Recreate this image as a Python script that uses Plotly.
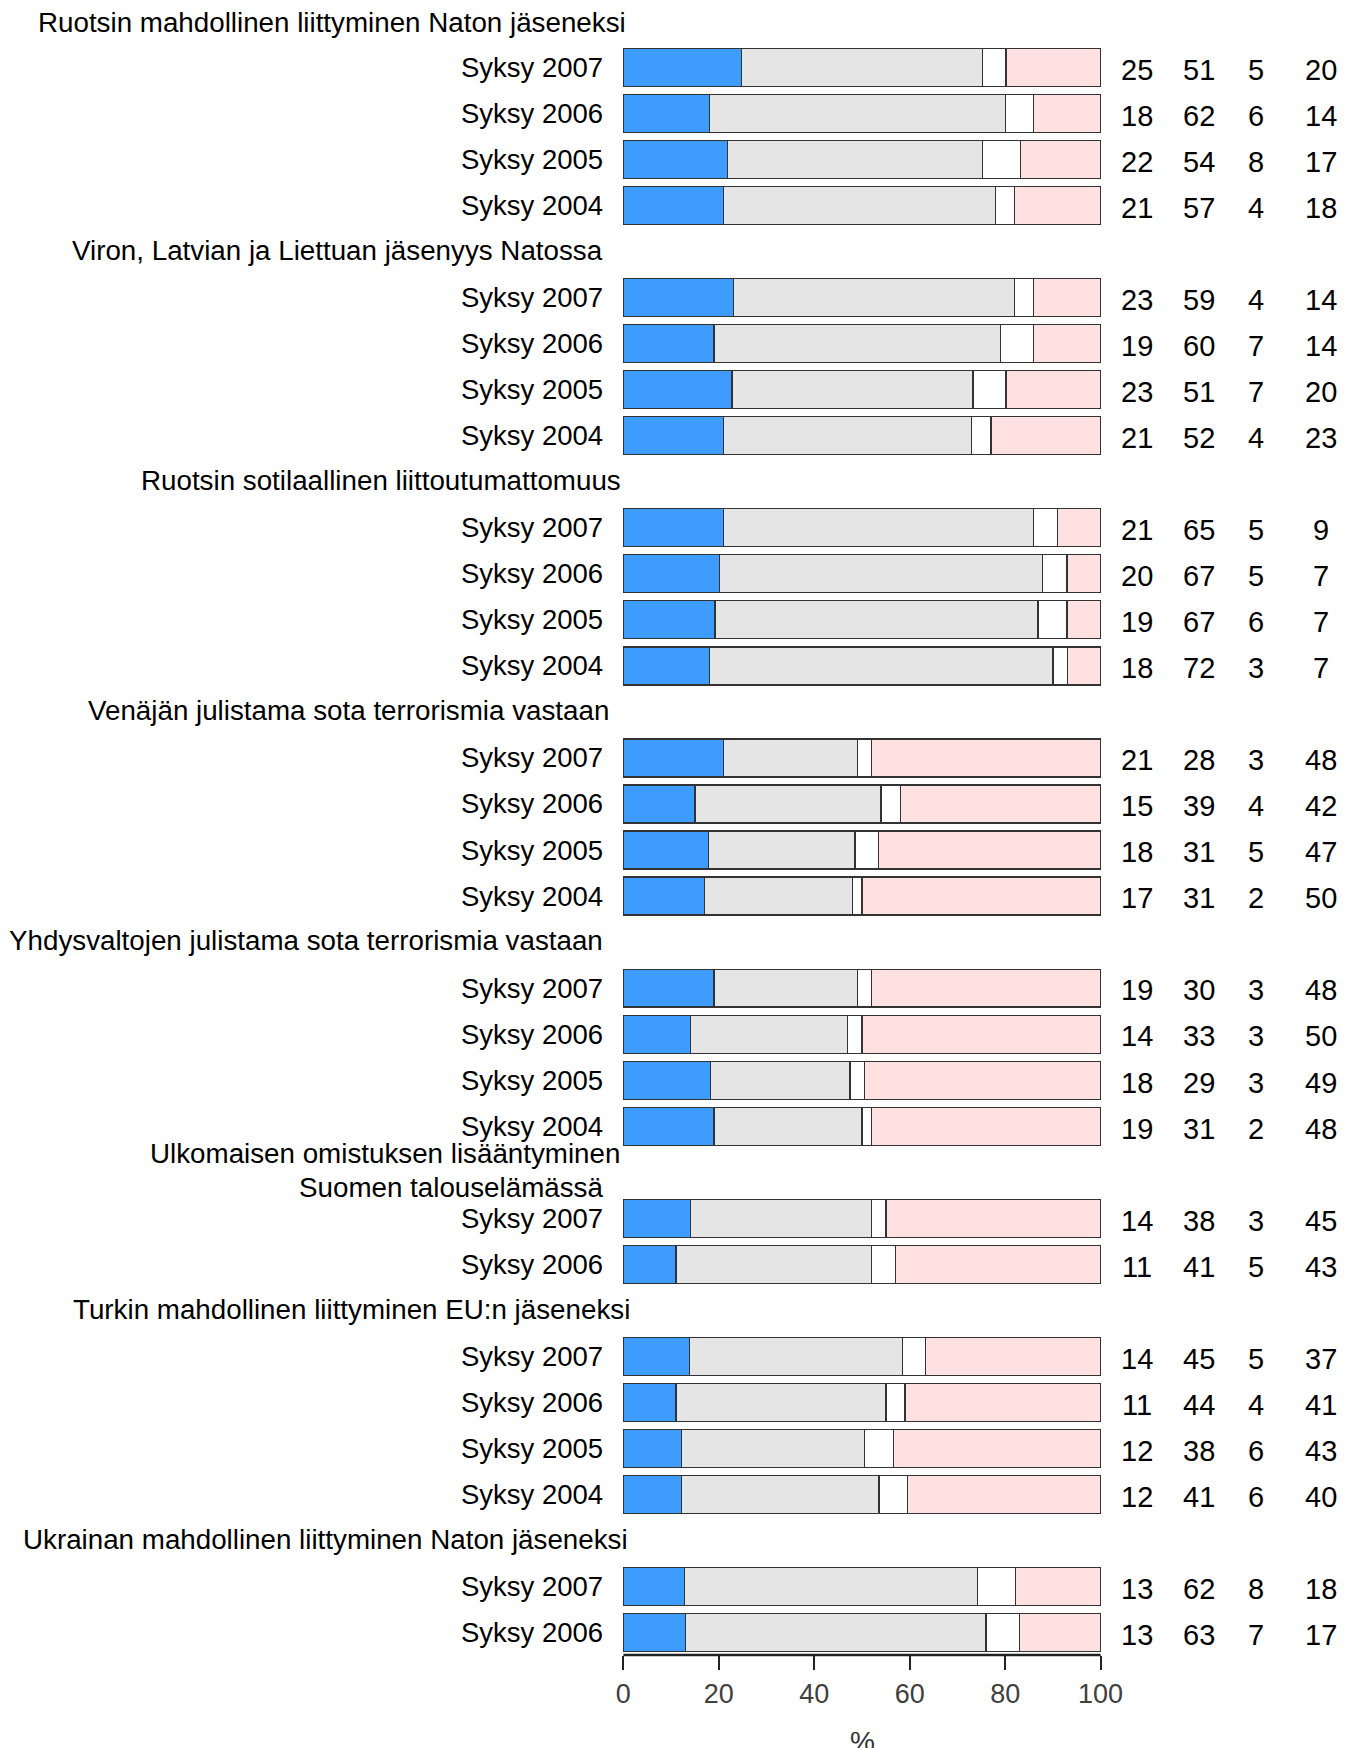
import plotly.graph_objects as go

# ---------------- data ----------------
group_titles = [
    ["Ruotsin mahdollinen liittyminen Naton jäseneksi"],
    ["Viron, Latvian ja Liettuan jäsenyys Natossa"],
    ["Ruotsin sotilaallinen liittoutumattomuus"],
    ["Venäjän julistama sota terrorismia vastaan"],
    ["Yhdysvaltojen julistama sota terrorismia vastaan"],
    ["Ulkomaisen omistuksen lisääntyminen", "Suomen talouselämässä"],
    ["Turkin mahdollinen liittyminen EU:n jäseneksi"],
    ["Ukrainan mahdollinen liittyminen Naton jäseneksi"],
]
group_periods = [
    ["Syksy 2007", "Syksy 2006", "Syksy 2005", "Syksy 2004"],
    ["Syksy 2007", "Syksy 2006", "Syksy 2005", "Syksy 2004"],
    ["Syksy 2007", "Syksy 2006", "Syksy 2005", "Syksy 2004"],
    ["Syksy 2007", "Syksy 2006", "Syksy 2005", "Syksy 2004"],
    ["Syksy 2007", "Syksy 2006", "Syksy 2005", "Syksy 2004"],
    ["Syksy 2007", "Syksy 2006"],
    ["Syksy 2007", "Syksy 2006", "Syksy 2005", "Syksy 2004"],
    ["Syksy 2007", "Syksy 2006"],
]
# four answer categories, one list per group
blue = [[25, 18, 22, 21], [23, 19, 23, 21], [21, 20, 19, 18], [21, 15, 18, 17],
        [19, 14, 18, 19], [14, 11], [14, 11, 12, 12], [13, 13]]
grey = [[51, 62, 54, 57], [59, 60, 51, 52], [65, 67, 67, 72], [28, 39, 31, 31],
        [30, 33, 29, 31], [38, 41], [45, 44, 38, 41], [62, 63]]
white = [[5, 6, 8, 4], [4, 7, 7, 4], [5, 5, 6, 3], [3, 4, 5, 2],
         [3, 3, 3, 2], [3, 5], [5, 4, 6, 6], [8, 7]]
pink = [[20, 14, 17, 18], [14, 14, 20, 23], [9, 7, 7, 7], [48, 42, 47, 50],
        [48, 50, 49, 48], [45, 43], [37, 41, 43, 40], [18, 17]]
tick_values = [0, 20, 40, 60, 80, 100]
axis_title = "%"

# ---------------- layout / style ----------------
OFF = 8                      # page body margin of the html page
PAD = 2                      # annotation box padding
W, H = 1357 - OFF, 1748 - OFF
FONT = "Liberation Sans, Arial, Helvetica, sans-serif"
colors = ["#3e9cff", "#e5e5e5", "#ffffff", "#ffe1e1"]
XMIN, XMAX = -0.5, 100.5
L_MARGIN, PLOT_W = 621 - OFF, 482
AXIS_Y_PAGE = 1655
T_MARGIN = 0
B_MARGIN = H - (AXIS_Y_PAGE - OFF)
PLOT_H = H - T_MARGIN - B_MARGIN
SLOT0_PAGE, SLOT_STEP = 21.3, 46.04
LABEL_RIGHT = 603
title_right = [[626], [603], [621], [609], [603], [620, 603], [629.5], [628]]
num_cols_px = [1137, 1199, 1256, 1321]
LABEL_SIZE = 27.5
TITLE_SIZE = 27.75


def px_to_paper(px_page):
    return (px_page - OFF - L_MARGIN) / PLOT_W


# build rows (slot index for each title and each bar)
slot = 0
bar_slots, bar_labels, series = [], [], [[], [], [], []]
raw = [[], [], [], []]
title_slots = []
for g, titles in enumerate(group_titles):
    title_slots.append(slot)
    slot += 1
    for i, per in enumerate(group_periods[g]):
        vals = [blue[g][i], grey[g][i], white[g][i], pink[g][i]]
        tot = sum(vals)
        for k in range(4):
            series[k].append(vals[k] / tot * 100)
            raw[k].append(vals[k])
        bar_slots.append(slot)
        bar_labels.append(per)
        slot += 1

y_top = (OFF - SLOT0_PAGE) / SLOT_STEP
y_bottom = (AXIS_Y_PAGE - SLOT0_PAGE) / SLOT_STEP

fig = go.Figure()
for k in range(4):
    fig.add_trace(go.Bar(
        x=series[k], y=bar_slots, orientation="h", width=0.825,
        marker=dict(color=colors[k], line=dict(color="#333333", width=1.3)),
        showlegend=False, hoverinfo="skip",
    ))

ann = []
for s, lab in zip(bar_slots, bar_labels):
    ann.append(dict(x=px_to_paper(LABEL_RIGHT + PAD), xref="paper", y=s, yref="y",
                    text=lab, showarrow=False, xanchor="right", yanchor="middle",
                    font=dict(size=LABEL_SIZE, color="#000000", family=FONT)))
for g, titles in enumerate(group_titles):
    s = title_slots[g]
    n = len(titles)
    for j, t in enumerate(titles):
        off = (j - (n - 1) / 2) * 0.74
        ann.append(dict(x=px_to_paper(title_right[g][j] + PAD), xref="paper",
                        y=s + off + (0.03 if g == 0 else -0.03), yref="y", text=t,
                        showarrow=False, xanchor="right", yanchor="middle",
                        font=dict(size=TITLE_SIZE, color="#000000", family=FONT)))
for i, s in enumerate(bar_slots):
    for k in range(4):
        ann.append(dict(x=px_to_paper(num_cols_px[k]), xref="paper", y=s + 0.05,
                        yref="y", text=str(raw[k][i]), showarrow=False,
                        xanchor="center", yanchor="middle",
                        font=dict(size=29, color="#000000", family=FONT)))
ann.append(dict(x=50, xref="x", y=-(1742 - AXIS_Y_PAGE) / PLOT_H, yref="paper",
                text=axis_title, showarrow=False, xanchor="center", yanchor="middle",
                font=dict(size=28, color="#333333", family=FONT)))

fig.update_layout(
    width=W, height=H,
    margin=dict(l=L_MARGIN, r=W - L_MARGIN - PLOT_W, t=T_MARGIN, b=B_MARGIN, pad=0),
    paper_bgcolor="white", plot_bgcolor="white",
    barmode="stack", annotations=ann,
    shapes=[dict(type="line", xref="x", yref="paper", x0=0, x1=100, y0=0, y1=0,
                 line=dict(color="#222222", width=2.5))],
    font=dict(family=FONT),
)
fig.update_xaxes(range=[XMIN, XMAX], tickvals=tick_values, ticks="outside", ticklen=14,
                 tickwidth=1.5, tickcolor="#222222", showgrid=False, zeroline=False,
                 showline=False, tickfont=dict(size=27, color="#404040", family=FONT),
                 ticklabelstandoff=1)
fig.update_yaxes(range=[y_bottom, y_top], showticklabels=False, showgrid=False,
                 zeroline=False, showline=False, ticks="")

fig.write_html("out.html")
